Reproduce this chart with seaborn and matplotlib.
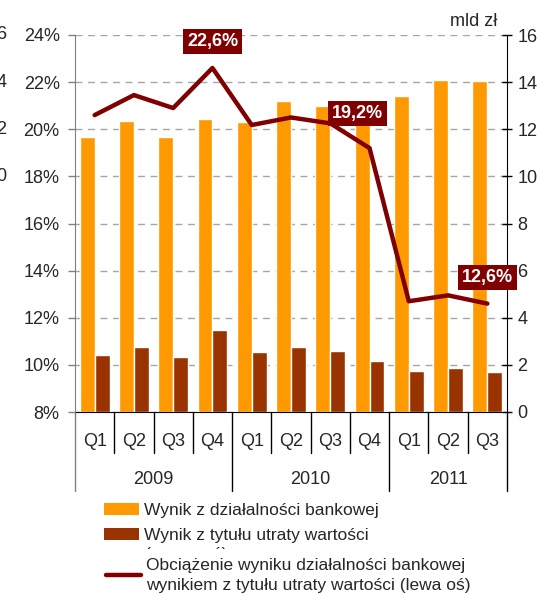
import matplotlib
matplotlib.use('Agg')
import matplotlib.pyplot as plt
import seaborn as sns
import pandas as pd
from matplotlib.patches import Patch
from matplotlib.lines import Line2D
from matplotlib.transforms import blended_transform_factory, Bbox

# dane
okresy = ['Q1 2009', 'Q2 2009', 'Q3 2009', 'Q4 2009',
          'Q1 2010', 'Q2 2010', 'Q3 2010', 'Q4 2010',
          'Q1 2011', 'Q2 2011', 'Q3 2011']
kwartaly = ['Q1', 'Q2', 'Q3', 'Q4', 'Q1', 'Q2', 'Q3', 'Q4', 'Q1', 'Q2', 'Q3']
lata = ['2009', '2010', '2011']
kwartaly_w_roku = [4, 4, 3]
wynik_bankowy = [11.65, 12.35, 11.65, 12.45, 12.3, 13.2, 13.0, 12.6, 13.4, 14.1, 14.05]
wynik_utrata = [2.42, 2.76, 2.33, 3.48, 2.55, 2.76, 2.59, 2.16, 1.74, 1.87, 1.70]
obciazenie = [20.6, 21.45, 20.9, 22.6, 20.18, 20.5, 20.25, 19.2, 12.7, 12.95, 12.6]
etykiety = {3: '22,6%', 7: '19,2%', 10: '12,6%'}

seria_1 = 'Wynik z działalności bankowej'
seria_2 = 'Wynik z tytułu utraty wartości'
seria_3 = 'Obciążenie wyniku działalności bankowej\nwynikiem z tytułu utraty wartości (lewa oś)'

ORANGE = '#FF9900'
BROWN = '#993300'
DARKRED = '#800000'

sns.set_style('white')
plt.rcParams['font.family'] = ['Liberation Sans', 'DejaVu Sans']

df = pd.DataFrame({
    'okres': okresy * 2,
    'mld': wynik_bankowy + wynik_utrata,
    'seria': [seria_1] * len(okresy) + [seria_2] * len(okresy),
})

W, H = 537, 593
fig = plt.figure(figsize=(W / 100, H / 100), dpi=100)
x0, x1, y0, y1 = 75, 507, 35, 412
ax = fig.add_axes([x0 / W, (H - y1) / H, (x1 - x0) / W, (y1 - y0) / H])

sns.barplot(data=df, x='okres', y='mld', hue='seria', palette=[ORANGE, BROWN],
            width=0.76, saturation=1, ax=ax, legend=False)

# lewa oś z linią (twinx przestawia ticki, więc oś prawą ustawiamy potem)
axl = ax.twinx()
sns.lineplot(x=list(range(len(obciazenie))), y=obciazenie, ax=axl,
             color=DARKRED, lw=3.2)

ax.set_xlim(-0.5, len(okresy) - 0.5)
ax.set_ylim(0, 16)
ax.set_yticks(range(0, 17, 2))
ax.set_xlabel('')
ax.set_ylabel('')
ax.set_xticks([])
ax.grid(axis='y', color='#a6a6a6', linestyle=(0, (5, 4)), lw=1)
ax.set_axisbelow(True)
ax.yaxis.tick_right()
ax.tick_params(axis='y', labelsize=13, direction='inout', length=7, width=1,
               color='black', pad=4, right=True, left=False,
               labelright=True, labelleft=False)
for s in ['top', 'left']:
    ax.spines[s].set_visible(False)
ax.spines['right'].set_color('black')
ax.spines['bottom'].set_color('black')

axl.set_ylim(8, 24)
axl.set_yticks(range(8, 25, 2))
axl.set_yticklabels([f'{v}%' for v in range(8, 25, 2)])
axl.set_ylabel('')
axl.yaxis.tick_left()
axl.tick_params(axis='y', labelsize=13, direction='out', length=5, width=1,
                color='#808080', pad=6, left=True, right=False,
                labelleft=True, labelright=False)
for s in ['top', 'right', 'bottom']:
    axl.spines[s].set_visible(False)
axl.spines['left'].set_visible(True)
axl.spines['left'].set_color('#808080')
axl.set_xlim(-0.5, len(okresy) - 0.5)

offsets = {3: (0, 19), 7: (-9, 25), 10: (0, 19)}
for i, txt in etykiety.items():
    axl.annotate(txt, xy=(i, obciazenie[i]), xytext=offsets[i], textcoords='offset points',
                 ha='center', va='center', color='white', fontsize=13, weight='bold',
                 bbox=dict(boxstyle='square,pad=0.22', fc=DARKRED, ec='none'))

# oś kategorii: kwartały i lata
tr = blended_transform_factory(ax.transData, ax.transAxes)
h = y1 - y0
for i, q in enumerate(kwartaly):
    ax.text(i, -29 / h, q, transform=tr, ha='center', va='center', fontsize=13)
granice = [-0.5]
for n in kwartaly_w_roku:
    granice.append(granice[-1] + n)
for i in range(len(kwartaly) + 1):
    x = i - 0.5
    dol = -79 / h if x in granice else -41 / h
    kolor = '#808080' if i == 0 else 'black'
    ax.plot([x, x], [0, dol], transform=tr, color=kolor, lw=1, clip_on=False)
for j, rok in enumerate(lata):
    srodek = (granice[j] + granice[j + 1]) / 2
    ax.text(srodek, -68 / h, rok, transform=tr, ha='center', va='center', fontsize=13)

ax.text((497 - x0) / (x1 - x0), (y1 - 21) / h, 'mld zł', transform=ax.transAxes,
        ha='right', va='center', fontsize=13)

# ucięte etykiety sąsiedniego wykresu
trl = blended_transform_factory(fig.transFigure, axl.transData)
for v, lab in zip([24, 22, 20, 18], ['16', '14', '12', '10']):
    fig.text(8 / W, v, lab, transform=trl, ha='right', va='center', fontsize=13)

# legenda
h1 = [Patch(fc=ORANGE, ec='none'), Patch(fc=BROWN, ec='none')]
leg1 = fig.legend(h1, [seria_1, seria_2], loc='upper left',
                  bbox_to_anchor=(104 / W, (H - 503) / H), frameon=False,
                  fontsize=12.5, handlelength=2.0, handleheight=0.7,
                  handletextpad=0.3, labelspacing=0.55, borderpad=0, borderaxespad=0)
czesc = fig.text(145 / W, (H - 555) / H, '(prawa oś)', ha='left', va='center', fontsize=12.5)
czesc.set_clip_on(True)
czesc.set_clip_box(Bbox.from_extents(0, H - 549, W, H))
h2 = [Line2D([], [], color=DARKRED, lw=3.2)]
leg2 = fig.legend(h2, [seria_3], loc='upper left',
                  bbox_to_anchor=(106 / W, (H - 558) / H), frameon=False,
                  fontsize=12.5, handlelength=2.0, handletextpad=0.3,
                  borderpad=0, borderaxespad=0)
for t in leg2.get_texts():
    t.set_linespacing(1.4)

fig.savefig('out.png', dpi=100)
